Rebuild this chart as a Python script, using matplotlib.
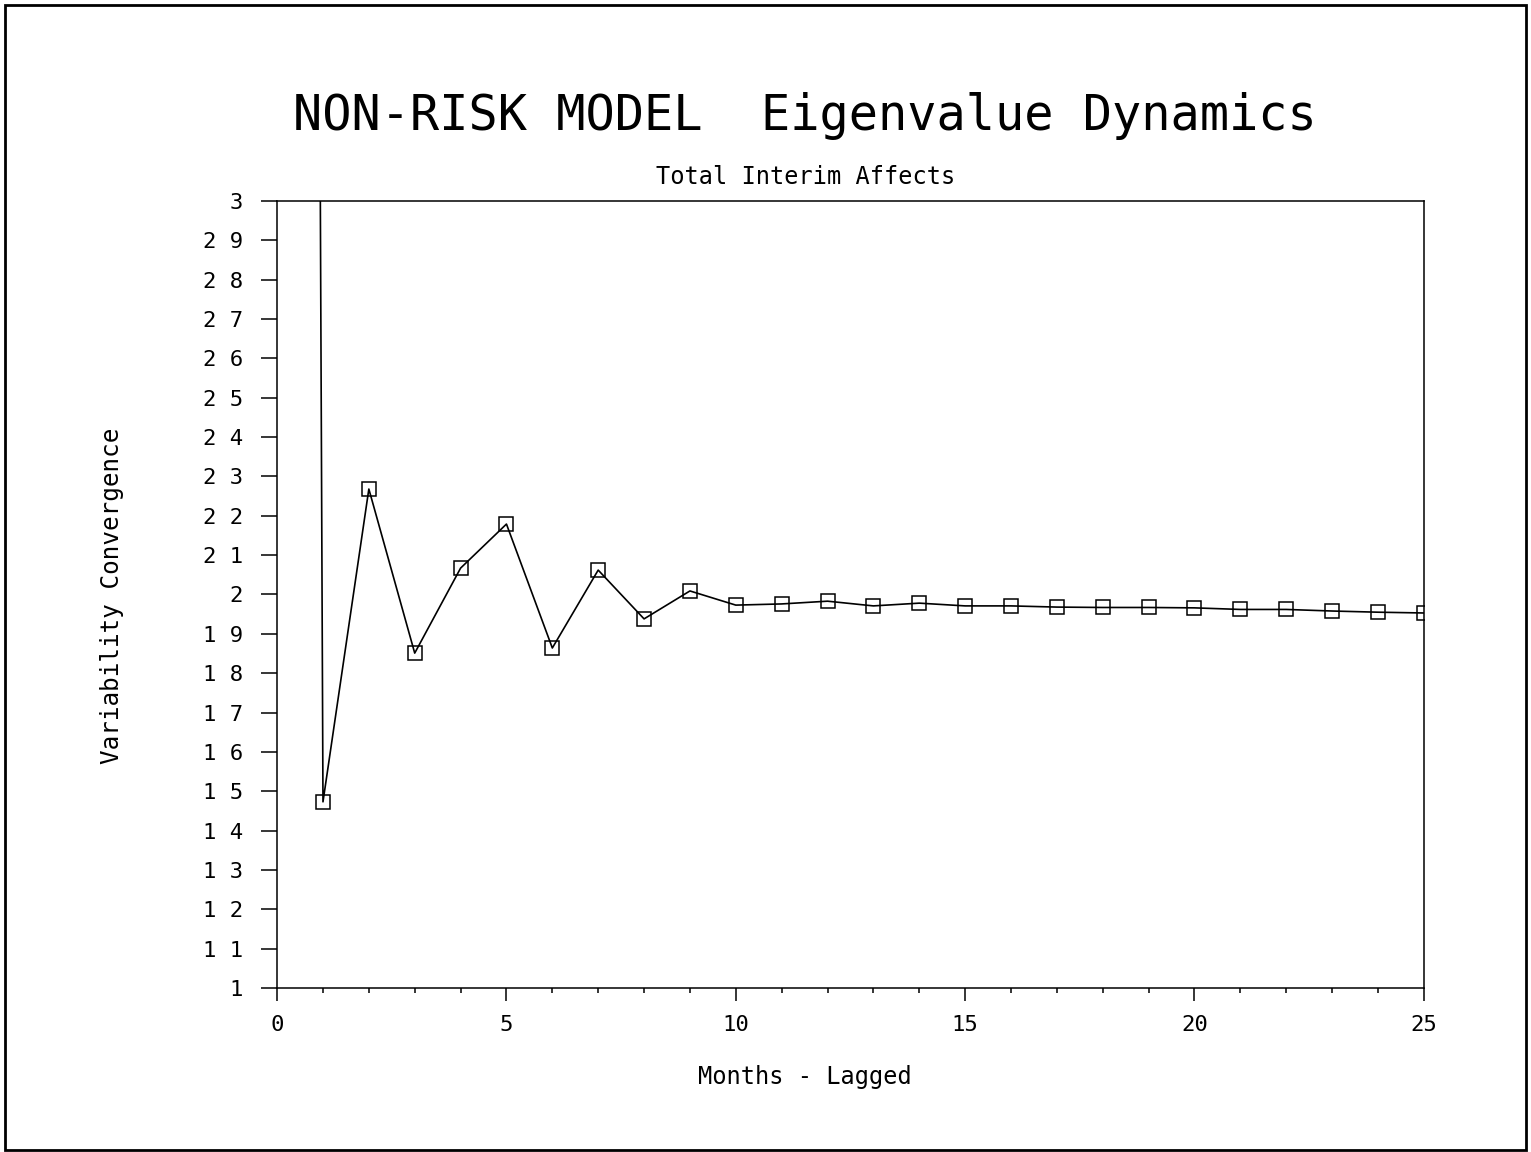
import matplotlib
matplotlib.use('Agg')
import matplotlib.pyplot as plt
from matplotlib.patches import Rectangle
from matplotlib.ticker import MultipleLocator

# lag (months) and eigenvalue convergence series
months = list(range(0, 26))
convergence = [28.0, 1.473, 2.268, 1.851, 2.067, 2.179, 1.864, 2.062, 1.938, 2.009,
               1.973, 1.976, 1.983, 1.971, 1.978, 1.971, 1.971, 1.968, 1.967, 1.967,
               1.966, 1.962, 1.962, 1.958, 1.955, 1.953]

y_ticks = [1.0, 1.1, 1.2, 1.3, 1.4, 1.5, 1.6, 1.7, 1.8, 1.9, 2.0,
           2.1, 2.2, 2.3, 2.4, 2.5, 2.6, 2.7, 2.8, 2.9, 3.0]
y_tick_labels = ['1', '1 1', '1 2', '1 3', '1 4', '1 5', '1 6', '1 7', '1 8', '1 9', '2',
                 '2 1', '2 2', '2 3', '2 4', '2 5', '2 6', '2 7', '2 8', '2 9', '3']
x_ticks = [0, 5, 10, 15, 20, 25]


def main():
    # monospaced face to get the wide, evenly spaced plotter lettering
    plt.rcParams['font.family'] = ['DejaVu Sans Mono']
    fig = plt.figure(figsize=(15.31, 11.52), dpi=100)
    ax = fig.add_axes([0.181, 0.1424, 0.749, 0.6831])

    ax.plot(months, convergence, color='black', lw=1.2, marker='s', markersize=10,
            markerfacecolor='none', markeredgecolor='black', markeredgewidth=1.1)

    ax.set_xlim(0, 25)
    ax.set_ylim(1, 3)

    ax.set_yticks(y_ticks)
    ax.set_yticklabels(y_tick_labels)
    ax.set_xticks(x_ticks)
    ax.set_xticklabels([str(t) for t in x_ticks])
    ax.xaxis.set_minor_locator(MultipleLocator(1))

    ax.tick_params(axis='y', direction='out', length=11.5, width=1.1,
                   labelsize=16, pad=13, right=False)
    ax.tick_params(axis='x', which='major', direction='out', length=9.5, width=1.1,
                   labelsize=16, pad=10, top=False)
    ax.tick_params(axis='x', which='minor', direction='out', length=3.5, width=1.1,
                   top=False)
    for side in ax.spines.values():
        side.set_linewidth(1.1)

    fig.text(0.5255, 0.899, 'NON-RISK MODEL  Eigenvalue Dynamics',
             ha='center', va='center', fontsize=35)
    fig.text(0.5265, 0.8464, 'Total Interim Affects', ha='center', va='center', fontsize=17)
    fig.text(0.5255, 0.0651, 'Months - Lagged', ha='center', va='center', fontsize=17)
    fig.text(0.0732, 0.4826, 'Variability Convergence', ha='center', va='center',
             rotation=90, fontsize=17.5)

    # outer frame around the page
    fig.patches.append(Rectangle((0.003, 0.002), 0.994, 0.994, transform=fig.transFigure,
                                 fill=False, edgecolor='black', lw=2))

    fig.savefig('out.png', dpi=100)


if __name__ == "__main__":
    main()
